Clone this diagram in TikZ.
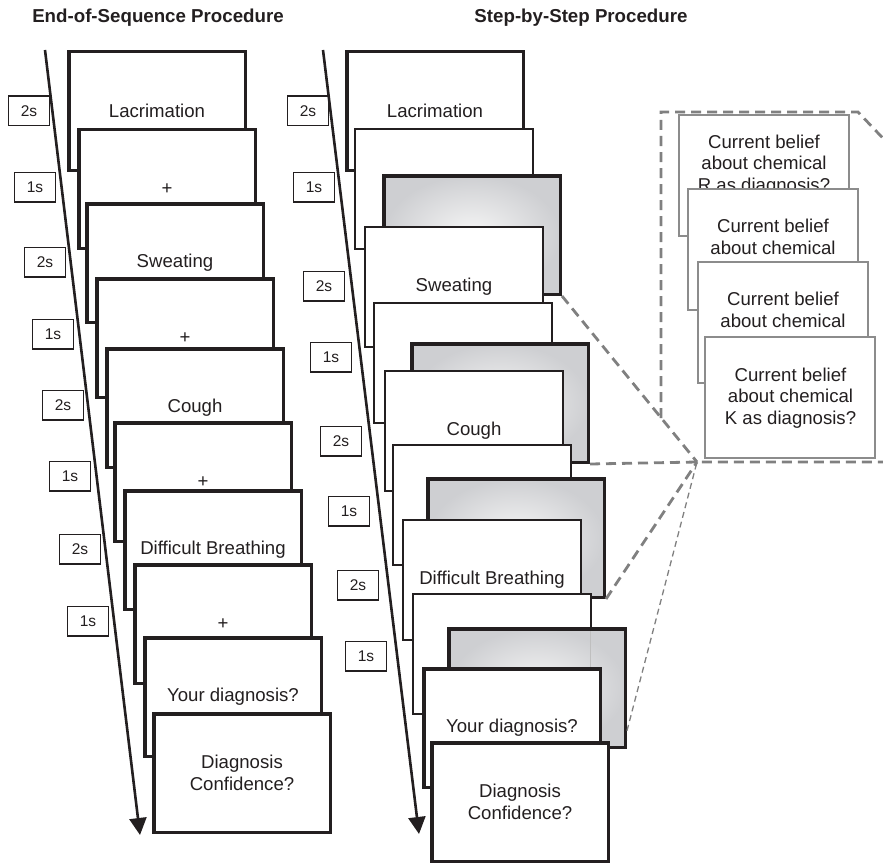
\documentclass[tikz,border=0pt]{standalone}
\usepackage{fontspec}
\setmainfont{Liberation Sans}
\usetikzlibrary{arrows.meta,calc}
\definecolor{ink}{RGB}{35,31,32}
\definecolor{dashgray}{RGB}{128,128,128}
\definecolor{bgray}{RGB}{140,140,140}
\definecolor{shadeout}{RGB}{206,207,210}
\definecolor{shadein}{RGB}{246,246,246}
\begin{document}
\begin{tikzpicture}[x=1pt,y=-1pt,
  scrthick/.style={draw=ink, fill=white, line width=3.5pt, minimum width=176.5pt, minimum height=118.5pt,
    inner sep=0pt, anchor=north west, align=center, text=ink, font=\fontsize{18.6pt}{21.5pt}\selectfont},
  scrthin/.style={scrthick, line width=2pt, minimum width=178pt, minimum height=120pt},
  scrgray/.style={scrthick, shading=radial, inner color=shadein, outer color=shadeout},
  tbox/.style={draw=ink, fill=white, line width=1.3pt, minimum width=40.7pt, minimum height=29.7pt,
    inner sep=0pt, text=ink, font=\fontsize{15.5pt}{18pt}\selectfont},
  ttl/.style={anchor=base, text=ink, font=\bfseries\fontsize{18.7pt}{22pt}\selectfont},
  timeline/.style={draw=ink, line width=2.6pt, -{Triangle[length=17pt,width=17pt]}},
  bbox/.style={draw=bgray, fill=white, line width=2pt, minimum width=170pt, minimum height=120.5pt,
    inner sep=0pt, anchor=north west},
  btxt/.style={align=center, text=ink, inner sep=0pt, font=\fontsize{18.6pt}{21.5pt}\selectfont},
  fdash/.style={draw=dashgray, line width=2.8pt, dash pattern=on 10pt off 6pt},
  tdash/.style={draw=dashgray, line width=1.3pt, dash pattern=on 6pt off 4pt}
]
\clip (0,0) rectangle (883,864);

% titles
\node[ttl] (t1) at (158,23) {End-of-Sequence Procedure};
\node[ttl] (t2) at (581,23) {Step-by-Step Procedure};

% ---------- left column ----------
\node[scrthick] (l1) at (67,50) {Lacrimation};
\node[scrthick] (l2) at (77,128) {+};
\node[scrthick] (l3) at (85,202) {Sweating};
\node[scrthick] (l4) at (95,277) {+};
\node[scrthick] (l5) at (105,347) {Cough};
\node[scrthick] (l6) at (113,421) {+};
\node[scrthick] (l7) at (123,489) {Difficult Breathing};
\node[scrthick] (l8) at (133,563) {+};
\node[scrthick] (l9) at (143,636) {Your diagnosis?};
\node[scrthick] (l10) at (152,712) {Diagnosis\\Confidence?};

\node[tbox] (lt1) at (29,111) {2s};
\node[tbox] (lt2) at (35,187) {1s};
\node[tbox] (lt3) at (45,262) {2s};
\node[tbox] (lt4) at (53,334) {1s};
\node[tbox] (lt5) at (63,405) {2s};
\node[tbox] (lt6) at (70,476) {1s};
\node[tbox] (lt7) at (80,549) {2s};
\node[tbox] (lt8) at (88,621) {1s};

\coordinate (la0) at (45,50);
\coordinate (la1) at (140,835);
\draw[timeline] (la0) -- (la1);

% ---------- right column ----------
\node[scrthick] (r1) at (345,50) {Lacrimation};
\node[scrthin] (r2) at (354,128) {};
\node[scrgray] (r3) at (382,174) {};
\node[scrthin] (r4) at (364,226) {Sweating};
\node[scrthin] (r5) at (373,302) {};
\node[scrgray] (r6) at (410,342) {};
\node[scrthin] (r7) at (384,370) {Cough};
\node[scrthin] (r8) at (392,444) {};
\node[scrgray] (r9) at (426,477) {};
\node[scrthin] (r10) at (402,519) {Difficult Breathing};
\node[scrthin] (r11) at (412,593) {};
\node[scrgray] (r12) at (447,627) {};
\coordinate (g0) at (590,631);
\coordinate (g1) at (590,670);
\draw[black!25, line width=0.6pt] (g0) -- (g1);
\node[scrthick] (r13) at (422,667) {Your diagnosis?};
\node[scrthick] (r14) at (430,741) {Diagnosis\\Confidence?};

\node[tbox] (rt1) at (308,111) {2s};
\node[tbox] (rt2) at (314,187) {1s};
\node[tbox] (rt3) at (324,286) {2s};
\node[tbox] (rt4) at (331,357) {1s};
\node[tbox] (rt5) at (341,441) {2s};
\node[tbox] (rt6) at (349,511) {1s};
\node[tbox] (rt7) at (358,585) {2s};
\node[tbox] (rt8) at (366,656) {1s};

\coordinate (ra0) at (323,50);
\coordinate (ra1) at (419,834);
\draw[timeline] (ra0) -- (ra1);

% ---------- zoomed panel ----------
\coordinate (P) at (697,462);
\coordinate (F1) at (661,418);
\coordinate (F2) at (661,112);
\coordinate (F3) at (858,112);
\coordinate (F4) at (915,172);
\coordinate (E) at (900,462);
\draw[fdash] (F1) -- (F2) -- (F3) -- (F4);

\node[bbox] (b1) at (678,114) {};
\node[btxt] (b1t) at (764,165) {Current belief\\about chemical\\R as diagnosis?};
\node[bbox] (b2) at (687,188) {};
\node[btxt] (b2t) at (773,237) {Current belief\\about chemical};
\node[bbox] (b3) at (697,261) {};
\node[btxt] (b3t) at (783,310) {Current belief\\about chemical};
\node[bbox] (b4) at (704,336) {};
\node[btxt] (b4t) at (790.5,398) {Current belief\\about chemical\\K as diagnosis?};

\draw[fdash] (r3.south east) -- (P);
\draw[fdash] (r6.south east) -- (P) -- (E);
\draw[fdash] (r9.south east) -- (P);
\draw[tdash] ($(r12.north east)!0.85!(r12.south east)$) -- (P);
\end{tikzpicture}
\end{document}
